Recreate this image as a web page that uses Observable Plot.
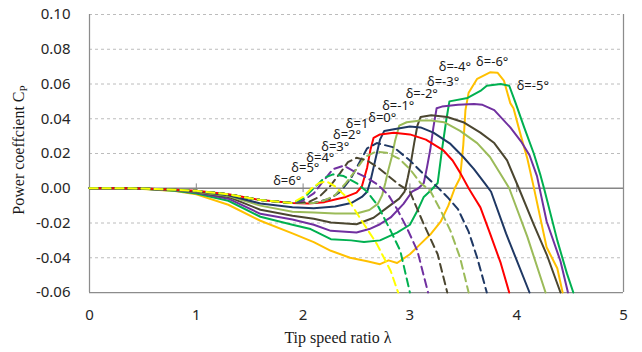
<!DOCTYPE html>
<html>
<head>
<meta charset="utf-8">
<script src="https://cdn.jsdelivr.net/npm/d3@7"></script>
<script src="https://cdn.jsdelivr.net/npm/@observablehq/plot@0.6"></script>
<style>
  html, body { margin: 0; padding: 0; background: #fff; }
</style>
</head>
<body>
<div id="chart"></div>
<script>
// ---- data ----
const lambdaTicks = [0, 1, 2, 3, 4, 5];
const cpTicks = [-0.06, -0.04, -0.02, 0.00, 0.02, 0.04, 0.06, 0.08, 0.10];
const zeroLineTicks = [1, 2, 3, 4];

// solid curves, delta = 0 ... -6
const dM6 = [[0,0],[0.3,0],[0.5,-0.0004],[0.8,-0.0016],[1.0,-0.0035],[1.3,-0.0095],[1.6,-0.0187],[1.9,-0.026],[2.1,-0.031],[2.26,-0.036],[2.44,-0.040],[2.6,-0.042],[2.72,-0.0437],[2.8,-0.0415],[2.88,-0.043],[3.0,-0.038],[3.1,-0.032],[3.2,-0.026],[3.29,-0.019],[3.36,-0.010],[3.42,0.0],[3.47,0.006],[3.5,0.025],[3.52,0.045],[3.55,0.055],[3.63,0.063],[3.75,0.0667],[3.82,0.0665],[3.88,0.062],[3.94,0.049],[3.97,0.046],[4.04,0.030],[4.1,0.017],[4.16,0.0005],[4.28,-0.034],[4.38,-0.046],[4.43,-0.06]];
const dM5 = [[0,0],[0.3,0],[0.5,-0.0003],[0.8,-0.0014],[1.0,-0.003],[1.3,-0.0072],[1.6,-0.0164],[1.9,-0.021],[2.07,-0.0235],[2.26,-0.0293],[2.45,-0.030],[2.57,-0.031],[2.72,-0.030],[2.88,-0.0255],[3.0,-0.021],[3.07,-0.013],[3.13,-0.005],[3.2,-0.001],[3.26,0.003],[3.3,0.022],[3.34,0.039],[3.37,0.050],[3.54,0.052],[3.66,0.056],[3.72,0.059],[3.85,0.060],[3.93,0.059],[3.99,0.049],[4.07,0.035],[4.16,0.020],[4.22,0.008],[4.26,-0.001],[4.38,-0.030],[4.47,-0.049],[4.53,-0.06]];
const dM4 = [[0,0],[0.3,0],[0.5,-0.0003],[0.8,-0.0012],[1.0,-0.0025],[1.3,-0.006],[1.6,-0.0147],[1.9,-0.018],[2.1,-0.021],[2.26,-0.0245],[2.5,-0.0255],[2.62,-0.0235],[2.72,-0.0207],[2.82,-0.0168],[2.94,-0.009],[3.02,-0.002],[3.08,0.0],[3.13,0.003],[3.16,0.012],[3.19,0.022],[3.22,0.035],[3.25,0.046],[3.3,0.047],[3.45,0.048],[3.6,0.0485],[3.68,0.048],[3.79,0.045],[3.94,0.035],[4.04,0.027],[4.12,0.019],[4.19,0.007],[4.28,-0.019],[4.41,-0.042],[4.48,-0.06]];
const dM3 = [[0,0],[0.3,0],[0.5,-0.0003],[0.8,-0.001],[1.0,-0.0022],[1.3,-0.005],[1.6,-0.0124],[1.9,-0.0158],[2.1,-0.0175],[2.26,-0.0197],[2.5,-0.0207],[2.66,-0.017],[2.79,-0.011],[2.9,-0.006],[2.95,-0.002],[2.98,0.006],[3.01,0.015],[3.04,0.026],[3.07,0.036],[3.1,0.041],[3.2,0.042],[3.35,0.041],[3.5,0.038],[3.66,0.032],[3.79,0.026],[3.91,0.016],[4.02,0.0],[4.16,-0.021],[4.28,-0.038],[4.41,-0.06]];
const dM2 = [[0,0],[0.3,0],[0.5,-0.0002],[0.8,-0.001],[1.0,-0.002],[1.3,-0.0045],[1.6,-0.010],[1.9,-0.0135],[2.1,-0.014],[2.3,-0.0145],[2.5,-0.0145],[2.62,-0.0125],[2.7,-0.009],[2.74,-0.004],[2.77,0.003],[2.8,0.011],[2.83,0.018],[2.86,0.027],[2.9,0.036],[2.97,0.038],[3.1,0.039],[3.2,0.039],[3.32,0.038],[3.47,0.033],[3.63,0.026],[3.75,0.018],[3.85,0.008],[3.93,0.0],[4.1,-0.028],[4.27,-0.06]];
const dM1 = [[0,0],[0.3,0],[0.5,-0.0002],[0.8,-0.0009],[1.0,-0.0018],[1.3,-0.004],[1.6,-0.0088],[1.9,-0.011],[2.1,-0.0115],[2.3,-0.0105],[2.45,-0.0085],[2.55,-0.005],[2.6,-0.002],[2.63,0.004],[2.66,0.012],[2.69,0.02],[2.72,0.028],[2.76,0.033],[2.85,0.034],[3.0,0.0355],[3.1,0.035],[3.22,0.032],[3.38,0.0255],[3.5,0.018],[3.6,0.011],[3.7,0.003],[3.76,-0.002],[3.9,-0.026],[4.12,-0.06]];
const d0 = [[0,0],[0.3,0],[0.5,-0.0002],[0.8,-0.0008],[1.0,-0.0015],[1.3,-0.0035],[1.6,-0.0068],[1.9,-0.0085],[2.05,-0.0088],[2.2,-0.008],[2.3,-0.0065],[2.4,-0.005],[2.5,-0.0025],[2.55,0.001],[2.6,0.012],[2.63,0.022],[2.66,0.029],[2.72,0.031],[2.85,0.032],[3.0,0.031],[3.15,0.028],[3.31,0.022],[3.4,0.016],[3.47,0.009],[3.55,0.0],[3.6,-0.005],[3.66,-0.011],[3.75,-0.026],[3.85,-0.043],[3.93,-0.06]];

// dashed curves, delta = 1 ... 6
const d1 = [[0,0],[0.3,0],[0.5,-0.0002],[0.8,-0.0008],[1.0,-0.0015],[1.3,-0.0035],[1.6,-0.0068],[1.9,-0.0085],[2.1,-0.0085],[2.25,-0.006],[2.35,-0.002],[2.45,0.006],[2.52,0.014],[2.6,0.023],[2.69,0.026],[2.85,0.0235],[3.0,0.016],[3.13,0.008],[3.26,0.0005],[3.35,-0.005],[3.45,-0.012],[3.55,-0.025],[3.63,-0.040],[3.72,-0.06]];
const d2 = [[0,0],[0.3,0],[0.5,-0.0002],[0.8,-0.0008],[1.0,-0.0015],[1.3,-0.0035],[1.6,-0.0068],[1.9,-0.0085],[2.1,-0.0085],[2.2,-0.007],[2.3,-0.004],[2.4,0.003],[2.5,0.011],[2.58,0.018],[2.68,0.021],[2.78,0.0205],[2.9,0.017],[3.0,0.011],[3.1,0.003],[3.19,-0.0014],[3.29,-0.013],[3.38,-0.0245],[3.47,-0.04],[3.55,-0.06]];
const d3v = [[0,0],[0.3,0],[0.5,-0.0002],[0.8,-0.0008],[1.0,-0.0015],[1.3,-0.0035],[1.6,-0.0068],[1.9,-0.0085],[2.05,-0.008],[2.15,-0.005],[2.25,0.001],[2.35,0.009],[2.42,0.015],[2.5,0.0175],[2.6,0.016],[2.7,0.012],[2.8,0.007],[2.9,0.002],[3.0,-0.002],[3.13,-0.0207],[3.26,-0.038],[3.35,-0.06]];
const d4 = [[0,0],[0.3,0],[0.5,-0.0002],[0.8,-0.0008],[1.0,-0.0015],[1.3,-0.0035],[1.6,-0.0068],[1.9,-0.0085],[2.0,-0.007],[2.1,-0.003],[2.2,0.005],[2.28,0.011],[2.38,0.013],[2.5,0.009],[2.6,0.006],[2.7,0.002],[2.8,-0.004],[2.88,-0.012],[2.97,-0.0226],[3.07,-0.036],[3.17,-0.06]];
const d5 = [[0,0],[0.3,0],[0.5,-0.0002],[0.8,-0.0008],[1.0,-0.0015],[1.3,-0.0035],[1.6,-0.0068],[1.9,-0.0085],[2.0,-0.006],[2.1,0.0],[2.2,0.006],[2.28,0.008],[2.38,0.007],[2.5,0.003],[2.6,-0.002],[2.7,-0.01],[2.82,-0.0245],[2.91,-0.036],[3.0,-0.06]];
const d6 = [[0,0],[0.3,0],[0.5,-0.0002],[0.8,-0.0008],[1.0,-0.0015],[1.3,-0.0035],[1.6,-0.0068],[1.9,-0.0085],[2.0,-0.005],[2.08,0.0],[2.15,0.003],[2.22,0.004],[2.3,0.001],[2.41,-0.0053],[2.57,-0.0207],[2.69,-0.032],[2.82,-0.0476],[2.89,-0.06]];

const seriesDelta  = [-6, -5, -4, -3, -2, -1, 0, 1, 2, 3, 4, 5, 6];
const seriesValues = [dM6, dM5, dM4, dM3, dM2, dM1, d0, d1, d2, d3v, d4, d5, d6];
const seriesColor  = ["#FFC000", "#00B050", "#7030A0", "#4B4630", "#9BBB59", "#1F3864", "#FF0000",
                      "#1F3864", "#9BBB59", "#4B4630", "#7030A0", "#00B050", "#FFFF00"];

// curve labels
const labelText = ["δ=6°", "δ=5°", "δ=4°", "δ=3°", "δ=2°", "δ=1", "δ=0°", "δ=-1°", "δ=-2°", "δ=-3°", "δ=-4°", "δ=-6°", "δ=-5°"];
const labelLambda = [1.72, 1.89, 2.03, 2.17, 2.28, 2.40, 2.61, 2.74, 2.96, 3.16, 3.27, 3.62, 4.00];
const labelCp = [0.0043, 0.0115, 0.0176, 0.0240, 0.0310, 0.0370, 0.0405, 0.0473, 0.0543, 0.0610, 0.0701, 0.0729, 0.0590];

// ---- chart ----
const fmtY = d => (d < -1e-9 ? "-" : "") + Math.abs(d).toFixed(2);
const fmtX = d => String(Math.round(d));
const labels = labelText.map((t, i) => ({t, x: labelLambda[i], y: labelCp[i]}));

const lineMarks = seriesValues.map((vals, i) =>
  Plot.line(vals, {
    x: d => d[0], y: d => d[1],
    stroke: seriesColor[i],
    strokeWidth: 2,
    strokeDasharray: seriesDelta[i] > 0 ? "8,5" : null,
    strokeLinejoin: "round"
  })
);

const chart = Plot.plot({
  width: 642,
  height: 352,
  marginLeft: 89,
  marginRight: 19,
  marginTop: 14,
  marginBottom: 60,
  style: {fontFamily: "'Noto Sans', 'DejaVu Sans', sans-serif", background: "#fff", overflow: "visible"},
  x: {domain: [0, 5]},
  y: {domain: [-0.06, 0.10]},
  marks: [
    Plot.ruleY(cpTicks.filter(d => Math.abs(d) > 1e-9 && d > -0.059), {stroke: "#bcbcbc", strokeDasharray: "3,3", strokeWidth: 1}),
    Plot.ruleY([-0.06], {stroke: "#8c8c8c", strokeWidth: 1.25}),
    Plot.ruleX([0, 5], {stroke: "#8c8c8c", strokeWidth: 1.25}),
    Plot.ruleY([0], {stroke: "#868686", strokeWidth: 1.5}),
    Plot.ruleX(zeroLineTicks, {y1: -0.0025, y2: 0.0025, stroke: "#868686", strokeWidth: 1}),
    Plot.axisY({ticks: cpTicks, tickSize: 0, tickPadding: 19, tickFormat: fmtY, fontSize: 15, label: null, color: "#262626"}),
    Plot.axisX({ticks: lambdaTicks, tickSize: 0, tickPadding: 17, tickFormat: fmtX, fontSize: 15, label: null, color: "#262626"}),
    ...lineMarks,
    Plot.text(labels, {x: "x", y: "y", text: "t", textAnchor: "start", lineAnchor: "middle", fontSize: 13, fill: "#1a1a1a"})
  ]
});

const svg = d3.select(chart);
const serif = "'Liberation Serif', 'Times New Roman', 'DejaVu Serif', serif";
const yt = svg.append("text")
  .attr("transform", "translate(24,150) rotate(-90)")
  .attr("text-anchor", "middle")
  .attr("font-family", serif)
  .attr("font-size", 16)
  .attr("fill", "#1a1a1a");
yt.append("tspan").text("Power coeffcient C");
yt.append("tspan").attr("font-size", 11).attr("dy", 3).text("P");

svg.append("text")
  .attr("x", 338)
  .attr("y", 343)
  .attr("text-anchor", "middle")
  .attr("font-family", serif)
  .attr("font-size", 16)
  .attr("fill", "#1a1a1a")
  .text("Tip speed ratio λ");

document.getElementById("chart").appendChild(chart);
</script>
</body>
</html>
